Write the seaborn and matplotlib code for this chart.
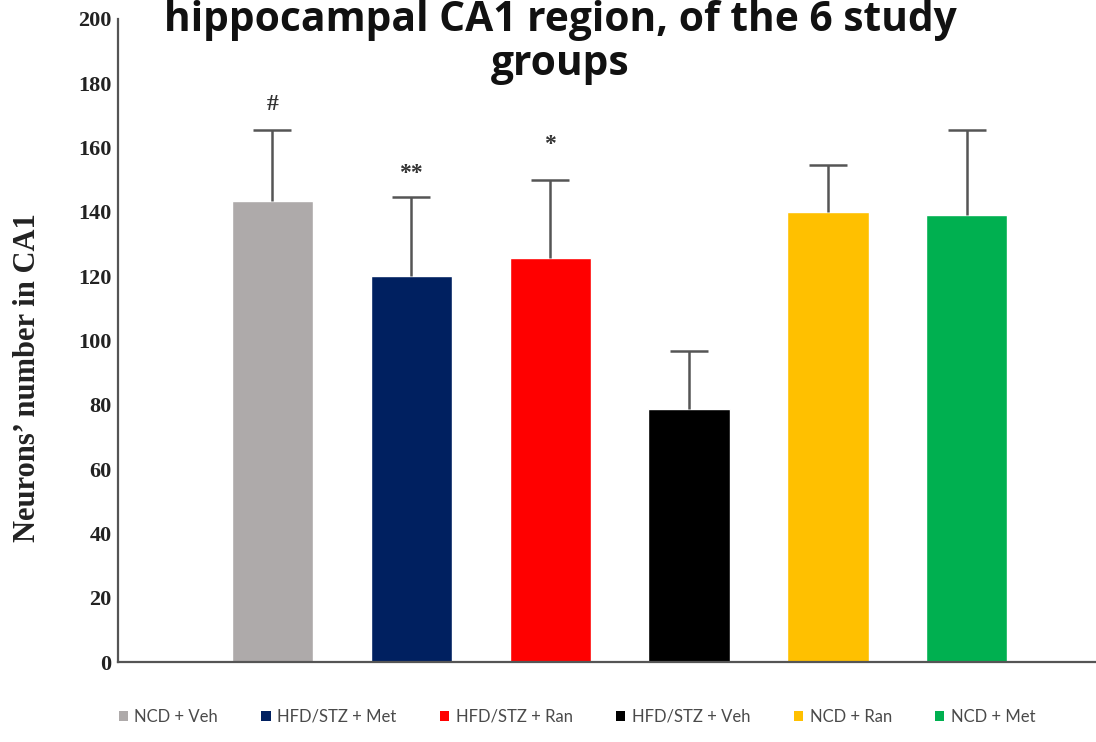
import matplotlib
matplotlib.use("Agg")
import matplotlib.pyplot as plt
from matplotlib.patches import Patch
import seaborn as sns
import pandas as pd

# Study groups, mean neuron counts and upper SD
groups = ["NCD + Veh", "HFD/STZ + Met", "HFD/STZ + Ran", "HFD/STZ + Veh", "NCD + Ran", "NCD + Met"]
means = [143.3, 120.0, 125.8, 78.8, 139.9, 138.9]
sd_upper = [22.1, 24.5, 24.0, 17.8, 14.6, 26.5]
colors = ["#AEAAAA", "#002060", "#FF0000", "#000000", "#FFC000", "#00B050"]

# Significance marks and the heights they sit at
marks = ["#", "**", "*"]
mark_groups = [0, 1, 2]
mark_y = [173.5, 152.0, 161.0]

title_lines = ["hippocampal CA1 region, of the 6 study", "groups"]
y_label = "Neurons\u2019 number in CA1"
y_ticks = [0, 20, 40, 60, 80, 100, 120, 140, 160, 180, 200]

df = pd.DataFrame({"group": groups, "mean": means})

sns.set_style("white")
fig = plt.figure(figsize=(10.96, 7.42), dpi=100)
ax = fig.add_axes([118 / 1096, 1 - 662 / 742, 1 - 118 / 1096, (662 - 19) / 742])

sns.barplot(data=df, x="group", y="mean", hue="group", palette=colors,
            order=groups, hue_order=groups, dodge=False, legend=False,
            width=0.585, saturation=1, ax=ax, errorbar=None)

# Upper-only error bars (lower caps hidden)
xs = list(range(len(groups)))
_, caplines, _ = ax.errorbar(xs, means, yerr=[[0] * len(groups), sd_upper], fmt="none",
                             ecolor="#555555", elinewidth=1.8, capsize=14,
                             capthick=1.8, zorder=3)
caplines[0].set_visible(False)

for g, s, y in zip(mark_groups, marks, mark_y):
    ax.text(g, y, s, ha="center", va="center", fontsize=17, fontweight="bold",
            fontfamily="Liberation Serif", color="#333333")

ax.set_ylim(0, 200)
ax.set_xlim(-1.112, 5.93)
ax.set_yticks(y_ticks)
ax.set_yticklabels([str(t) for t in y_ticks], fontfamily="Liberation Serif",
                   fontweight="bold", fontsize=16, color="#222222")
ax.set_xticks([])
ax.set_xlabel("")
ax.set_ylabel(y_label, fontfamily="Liberation Serif", fontweight="bold",
              fontsize=22, color="#222222")
ax.yaxis.set_label_coords((42 - 118) / 978, (662 - 378) / 643)
ax.tick_params(axis="y", direction="in", length=6, width=1.3, color="#555555", pad=4.5)

for side in ["top", "right"]:
    ax.spines[side].set_visible(False)
for side in ["left", "bottom"]:
    ax.spines[side].set_color("#555555")
    ax.spines[side].set_linewidth(1.6)

# Two-line title at the top
for line, base_px in zip(title_lines, [31, 75]):
    fig.text(560 / 1096, 1 - base_px / 742, line, ha="center", va="baseline",
             fontsize=29.3, fontweight="bold", fontfamily="Open Sans", color="#111111")

handles = [Patch(facecolor=c, edgecolor="none", label=g) for c, g in zip(colors, groups)]
fig.legend(handles=handles, loc="center", bbox_to_anchor=(577 / 1096, 1 - 717 / 742),
           ncol=6, frameon=False, handlelength=0.55, handleheight=0.55,
           handletextpad=0.4, columnspacing=2.6,
           prop={"family": "Lato", "size": 12}, labelcolor="#4a4a4a")

fig.savefig("out.png", dpi=100)
